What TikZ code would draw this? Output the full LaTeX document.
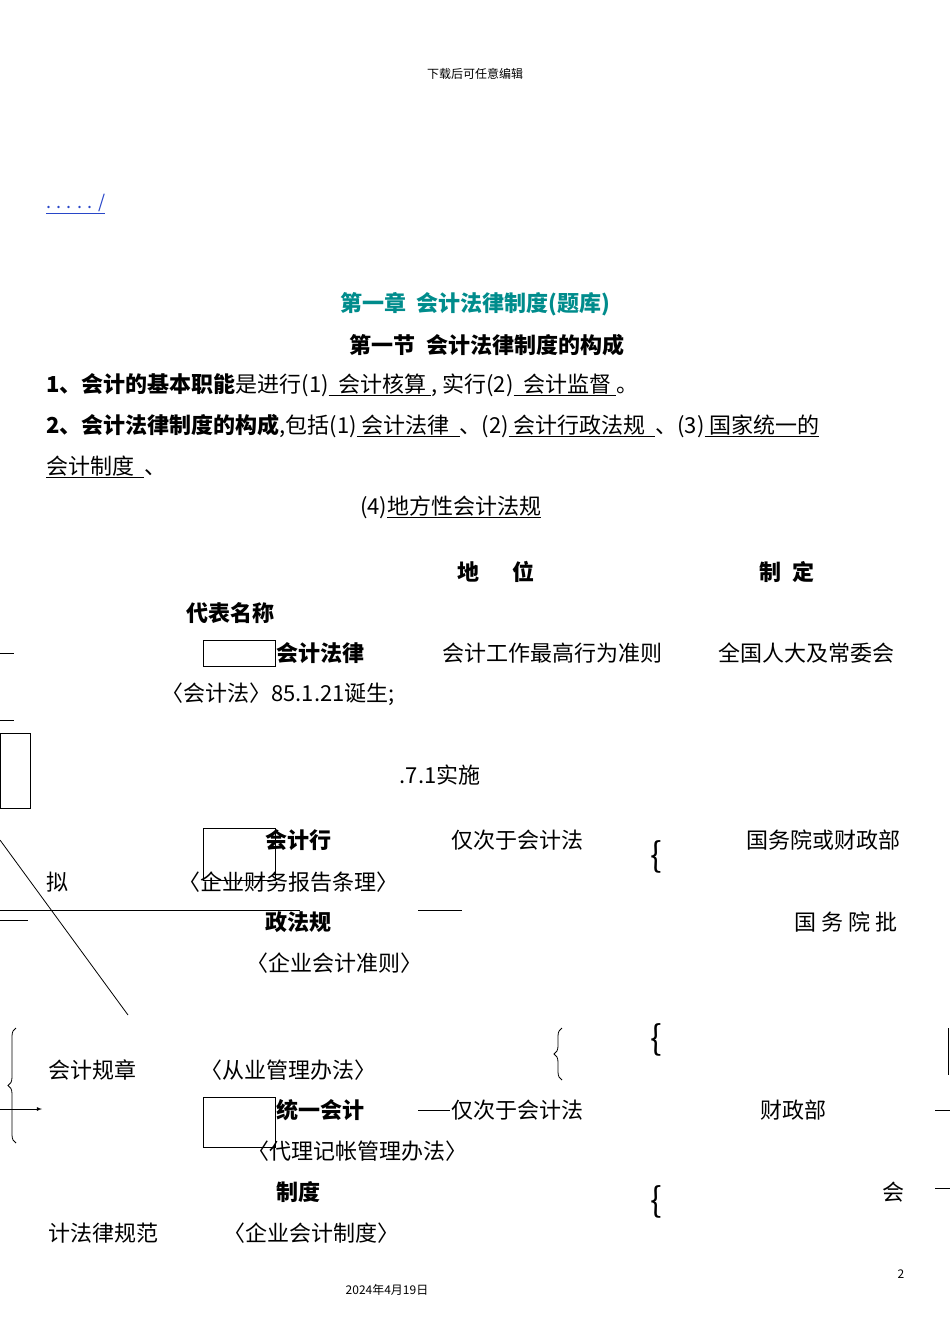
\documentclass[tikz,border=0pt]{standalone}
\usepackage{fontspec}
\setmainfont{Noto Sans CJK SC}
\usetikzlibrary{decorations.pathreplacing}
\definecolor{teal1}{RGB}{0,140,140}
\definecolor{link}{RGB}{40,70,200}
\tikzset{t/.style={inner sep=0pt,font=\fontsize{22}{26}\selectfont},
 tw/.style={t,anchor=west},
 b/.style={t,font=\fontsize{22}{26}\selectfont\bfseries},
 bw/.style={b,anchor=west},
 sm/.style={inner sep=0pt,font=\fontsize{12}{14}\selectfont},
 ln/.style={line width=0.8pt},
 br/.style={inner sep=0pt,font=\fontsize{34}{34}\selectfont}}
\newcommand{\ul}[1]{\underline{#1}}
\begin{document}
\begin{tikzpicture}[x=1pt,y=-1pt]
\useasboundingbox (0,0) rectangle (950,1344);
\node[sm] (hd) at (475,74) {下载后可任意编辑};
\node[tw,text=link,font=\fontsize{18}{20}\selectfont] (lk) at (46,204) {\ul{. . . . . /}};
\node[b,text=teal1] (tt) at (475,304) {第一章\ \ 会计法律制度(题库)};
\node[b] (st) at (487,345) {第一节\ \ 会计法律制度的构成};
\node[tw] (l1) at (46,385) {\textbf{1、会计的基本职能}是进行(1)\ul{\ \ 会计核算\ }, 实行(2)\ul{\ \ 会计监督\ }。};
\node[tw] (l2) at (46,426) {\textbf{2、会计法律制度的构成},包括(1)\ul{\ 会计法律\ \ }、(2)\ul{\ 会计行政法规\ \ }、(3)\ul{\ 国家统一的}};
\node[tw] (l3) at (46,467) {\ul{会计制度\ \ }、};
\node[tw] (l4) at (360,507) {(4)\ul{地方性会计法规}};
\node[b] (h1) at (496,572) {地\quad\ \ 位};
\node[b] (h2) at (787,572) {制\ \ 定};
\node[b] (h3) at (230,613) {代表名称};
\draw[ln] (203,640) rectangle (275,666);
\node[bw] (r1) at (276,653) {会计法律};
\node[t] (r1b) at (552,653) {会计工作最高行为准则};
\node[t] (r1c) at (806,653) {全国人大及常委会};
\draw[ln] (0,653) -- (14,653);
\node[t] (r1d) at (278,694) {〈会计法〉85.1.21诞生;};
\draw[ln] (0,720) -- (14,720);
\draw[ln] (0,733) rectangle (30,808);
\node[t] (r1e) at (440,775) {.7.1实施};
\draw[ln] (0,840) -- (128,1015);
\draw[ln] (203,828) rectangle (275,880);
\node[bw] (r2) at (265,840) {会计行};
\node[t] (r2b) at (517,840) {仅次于会计法};
\node[br] (bb1) at (656,857) {\{};
\node[t] (r2c) at (823,840) {国务院或财政部};
\node[t] (r2d) at (57,882) {拟};
\node[t] (r2e) at (288,882) {〈企业财务报告条理〉};
\draw[ln] (0,910) -- (300,910);
\draw[ln] (0,920) -- (28,920);
\draw[ln] (418,910) -- (462,910);
\node[bw] (r2f) at (265,922) {政法规};
\node[t] (r2g) at (846,922) {国\ 务\ 院\ 批};
\node[t] (r2h) at (334,963) {〈企业会计准则〉};
\draw[ln,decorate,decoration={brace,amplitude=8pt}] (16,1143) -- (16,1028);
\draw[ln,decorate,decoration={brace,amplitude=8pt}] (562,1080) -- (562,1028);
\node[br] (bb2) at (656,1040) {\{};
\draw[ln] (948,1028) -- (948,1075);
\node[t] (r3) at (92,1070) {会计规章};
\node[t] (r3b) at (288,1070) {〈从业管理办法〉};
\coordinate (a0) at (0,1109);
\coordinate (a1) at (42,1109);
\draw[ln,-latex] (a0) -- (a1);
\draw[ln] (203,1097) rectangle (275,1147);
\node[bw] (r4) at (276,1110) {统一会计};
\draw[ln] (418,1110) -- (450,1110);
\node[t] (r4b) at (517,1110) {仅次于会计法};
\node[t] (r4c) at (793,1110) {财政部};
\draw[ln] (935,1110) -- (950,1110);
\node[t] (r4d) at (357,1151) {〈代理记帐管理办法〉};
\node[bw] (r4e) at (276,1192) {制度};
\node[t] (r4f) at (893,1192) {会};
\node[br] (bb3) at (656,1202) {\{};
\draw[ln] (935,1188) -- (950,1188);
\node[t] (r5) at (103,1233) {计法律规范};
\node[t] (r5b) at (311,1233) {〈企业会计制度〉};
\node[sm] (pg) at (901,1274) {2};
\node[sm] (dt) at (387,1290) {2024年4月19日};
\end{tikzpicture}
\end{document}
